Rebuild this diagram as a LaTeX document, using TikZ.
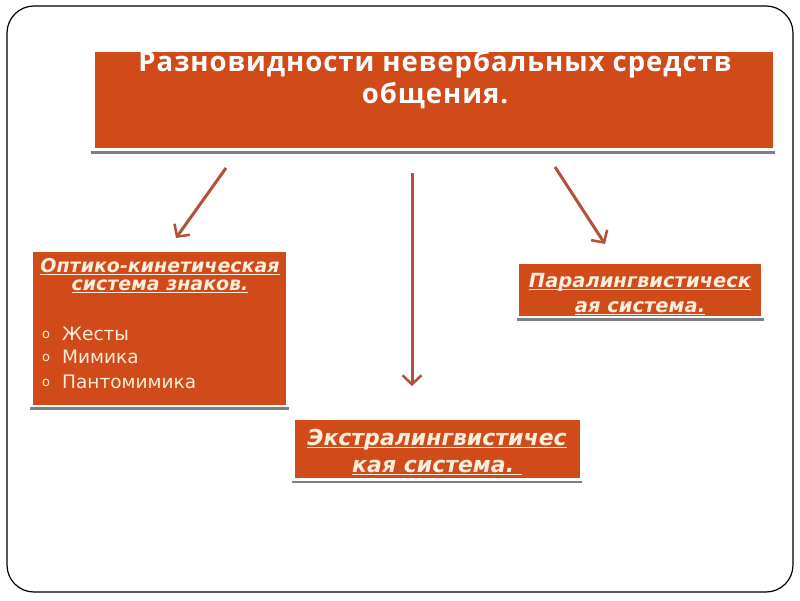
\documentclass[tikz,border=0pt]{standalone}
\usepackage{fontspec}
\setmainfont{DejaVu Sans}
\newfontfamily\titlefont[LetterSpace=3.5]{Open Sans}
\newfontfamily\boxfont{DejaVu Sans}
\definecolor{boxfill}{HTML}{D14A1A}
\definecolor{arrowc}{HTML}{B2503A}
\definecolor{shadowc}{HTML}{7F7F7F}
\definecolor{textc}{HTML}{FBEEDD}
\newcommand\ulx[1]{\setbox0\hbox{#1}\rlap{\rule[-3pt]{\wd0}{1.3pt}}\box0}
\usetikzlibrary{arrows.meta}
\tikzset{
  obox/.style={fill=boxfill, draw=none, inner sep=0pt},
  shline/.style={draw=shadowc, line width=2.5pt},
  arr/.style={draw=arrowc, line width=3pt, -{Straight Barb[length=9pt,width=19pt,line width=2.5pt]}},
}
\begin{document}
\begin{tikzpicture}[x=1pt,y=-1pt]
\useasboundingbox (0,0) rectangle (800,600);
\fill[white] (0,0) rectangle (800,600);
\draw[black, line width=1.2pt, rounded corners=27pt] (7,6) rectangle (793,592);
% title
\path[obox] (95,52) rectangle (773,148);
\draw[shline] (91,152.5) -- (775,152.5);
\node[text=white, align=center, font=\titlefont\bfseries\fontsize{27.5}{32}\selectfont, anchor=base] (title) at (435,103) {Разновидности невербальных средств\\общения.};
% left box
\path[obox] (33,252) rectangle (286,405);
\draw[shline] (30,408.5) -- (289,408.5);
\node[text=textc, align=center, font=\boxfont\bfseries\itshape\fontsize{19}{18}\selectfont, anchor=base] (opt) at (160,290) {\ulx{Оптико-кинетическая}\\\ulx{система знаков.}};
\node[text=textc, font=\boxfont\fontsize{13}{13}\selectfont, anchor=base] (b1) at (46,338) {o};
\node[text=textc, font=\boxfont\fontsize{13}{13}\selectfont, anchor=base] (b2) at (46,361) {o};
\node[text=textc, font=\boxfont\fontsize{13}{13}\selectfont, anchor=base] (b3) at (46,386) {o};
\node[text=textc, font=\boxfont\fontsize{18.5}{18}\selectfont, anchor=base west, inner sep=0pt] (t1) at (62,340) {Жесты};
\node[text=textc, font=\boxfont\fontsize{18.5}{18}\selectfont, anchor=base west, inner sep=0pt] (t2) at (62,363) {Мимика};
\node[text=textc, font=\boxfont\fontsize{18.5}{18}\selectfont, anchor=base west, inner sep=0pt] (t3) at (62,388) {Пантомимика};
% right box
\path[obox] (519,264) rectangle (761,316);
\draw[shline] (517,319.5) -- (764,319.5);
\node[text=textc, align=center, font=\boxfont\bfseries\itshape\fontsize{19.5}{25}\selectfont, anchor=base] (para) at (640,312) {\ulx{Паралингвистическ}\\\ulx{ая система.}};
% middle box
\path[obox] (295,420) rectangle (580,478);
\draw[shline] (292,482) -- (582,482);
\node[text=textc, align=center, font=\boxfont\bfseries\itshape\fontsize{22}{27}\selectfont, anchor=base] (extra) at (437,472) {\ulx{Экстралингвистичес}\\\ulx{кая система.\ }};
% arrows
\coordinate (a1s) at (226,168); \coordinate (a1e) at (176,238);
\coordinate (a2s) at (412,173); \coordinate (a2e) at (412,386);
\coordinate (a3s) at (555,167); \coordinate (a3e) at (605,244);
\draw[arr] (a1s) -- (a1e);
\draw[arr] (a2s) -- (a2e);
\draw[arr] (a3s) -- (a3e);
\end{tikzpicture}
\end{document}
